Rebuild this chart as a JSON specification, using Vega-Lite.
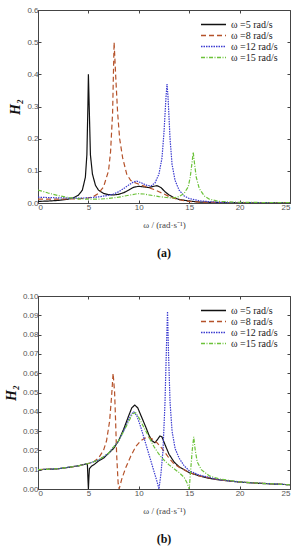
{
  "$schema": "https://vega.github.io/schema/vega-lite/v6.json",
  "padding": {"left": 3, "top": 5, "right": 5, "bottom": 0},
  "spacing": 31,
  "background": "white",
  "config": {
    "view": {"stroke": "#444", "strokeWidth": 1},
    "axis": {
      "grid": false,
      "domainColor": "#444",
      "tickColor": "#444",
      "tickSize": -3,
      "labelFont": "Liberation Sans",
      "labelFontSize": 8,
      "labelColor": "#555",
      "labelPadding": 3,
      "titleFont": "Liberation Serif",
      "titleColor": "#444",
      "titleFontWeight": "normal"
    },
    "legend": {
      "labelFont": "Liberation Serif",
      "labelFontSize": 10,
      "labelColor": "#222",
      "symbolType": "stroke",
      "symbolSize": 625,
      "symbolStrokeWidth": 1.3,
      "clipHeight": 11,
      "rowPadding": 0,
      "padding": 0
    }
  },
  "datasets": {
    "a": [
      {"w":0,"h":0.005,"s":"ω =5 rad/s"},{"w":1,"h":0.006,"s":"ω =5 rad/s"},{"w":2,"h":0.008,"s":"ω =5 rad/s"},{"w":3,"h":0.012,"s":"ω =5 rad/s"},{"w":3.5,"h":0.016,"s":"ω =5 rad/s"},{"w":4,"h":0.024,"s":"ω =5 rad/s"},{"w":4.4,"h":0.04,"s":"ω =5 rad/s"},{"w":4.7,"h":0.08,"s":"ω =5 rad/s"},{"w":4.85,"h":0.15,"s":"ω =5 rad/s"},{"w":4.95,"h":0.3,"s":"ω =5 rad/s"},{"w":5.0,"h":0.4,"s":"ω =5 rad/s"},{"w":5.08,"h":0.3,"s":"ω =5 rad/s"},{"w":5.2,"h":0.15,"s":"ω =5 rad/s"},{"w":5.4,"h":0.09,"s":"ω =5 rad/s"},{"w":5.7,"h":0.055,"s":"ω =5 rad/s"},{"w":6,"h":0.04,"s":"ω =5 rad/s"},{"w":6.5,"h":0.03,"s":"ω =5 rad/s"},{"w":7,"h":0.026,"s":"ω =5 rad/s"},{"w":7.5,"h":0.025,"s":"ω =5 rad/s"},{"w":8,"h":0.027,"s":"ω =5 rad/s"},{"w":8.5,"h":0.032,"s":"ω =5 rad/s"},{"w":9,"h":0.04,"s":"ω =5 rad/s"},{"w":9.5,"h":0.049,"s":"ω =5 rad/s"},{"w":10,"h":0.052,"s":"ω =5 rad/s"},{"w":10.5,"h":0.05,"s":"ω =5 rad/s"},{"w":11,"h":0.048,"s":"ω =5 rad/s"},{"w":11.5,"h":0.052,"s":"ω =5 rad/s"},{"w":11.8,"h":0.054,"s":"ω =5 rad/s"},{"w":12.2,"h":0.048,"s":"ω =5 rad/s"},{"w":12.6,"h":0.035,"s":"ω =5 rad/s"},{"w":13,"h":0.025,"s":"ω =5 rad/s"},{"w":13.5,"h":0.016,"s":"ω =5 rad/s"},{"w":14,"h":0.011,"s":"ω =5 rad/s"},{"w":15,"h":0.006,"s":"ω =5 rad/s"},{"w":16,"h":0.003,"s":"ω =5 rad/s"},{"w":18,"h":0.0015,"s":"ω =5 rad/s"},{"w":20,"h":0.001,"s":"ω =5 rad/s"},{"w":25,"h":0.0005,"s":"ω =5 rad/s"},

      {"w":0,"h":0.012,"s":"ω =8 rad/s"},{"w":2,"h":0.012,"s":"ω =8 rad/s"},{"w":4,"h":0.013,"s":"ω =8 rad/s"},{"w":5,"h":0.016,"s":"ω =8 rad/s"},{"w":5.5,"h":0.02,"s":"ω =8 rad/s"},{"w":6,"h":0.03,"s":"ω =8 rad/s"},{"w":6.5,"h":0.05,"s":"ω =8 rad/s"},{"w":7,"h":0.1,"s":"ω =8 rad/s"},{"w":7.2,"h":0.16,"s":"ω =8 rad/s"},{"w":7.4,"h":0.28,"s":"ω =8 rad/s"},{"w":7.55,"h":0.5,"s":"ω =8 rad/s"},{"w":7.7,"h":0.4,"s":"ω =8 rad/s"},{"w":7.9,"h":0.28,"s":"ω =8 rad/s"},{"w":8.1,"h":0.2,"s":"ω =8 rad/s"},{"w":8.4,"h":0.14,"s":"ω =8 rad/s"},{"w":8.8,"h":0.09,"s":"ω =8 rad/s"},{"w":9.2,"h":0.07,"s":"ω =8 rad/s"},{"w":9.7,"h":0.062,"s":"ω =8 rad/s"},{"w":10.2,"h":0.056,"s":"ω =8 rad/s"},{"w":10.8,"h":0.05,"s":"ω =8 rad/s"},{"w":11.5,"h":0.042,"s":"ω =8 rad/s"},{"w":12,"h":0.035,"s":"ω =8 rad/s"},{"w":12.5,"h":0.028,"s":"ω =8 rad/s"},{"w":13,"h":0.02,"s":"ω =8 rad/s"},{"w":14,"h":0.01,"s":"ω =8 rad/s"},{"w":15,"h":0.005,"s":"ω =8 rad/s"},{"w":16,"h":0.003,"s":"ω =8 rad/s"},{"w":18,"h":0.0015,"s":"ω =8 rad/s"},{"w":25,"h":0.0005,"s":"ω =8 rad/s"},

      {"w":0,"h":0.018,"s":"ω =12 rad/s"},{"w":2,"h":0.016,"s":"ω =12 rad/s"},{"w":4,"h":0.015,"s":"ω =12 rad/s"},{"w":5,"h":0.016,"s":"ω =12 rad/s"},{"w":6,"h":0.019,"s":"ω =12 rad/s"},{"w":7,"h":0.024,"s":"ω =12 rad/s"},{"w":7.5,"h":0.028,"s":"ω =12 rad/s"},{"w":8,"h":0.035,"s":"ω =12 rad/s"},{"w":8.5,"h":0.045,"s":"ω =12 rad/s"},{"w":9,"h":0.056,"s":"ω =12 rad/s"},{"w":9.5,"h":0.066,"s":"ω =12 rad/s"},{"w":9.8,"h":0.068,"s":"ω =12 rad/s"},{"w":10.3,"h":0.062,"s":"ω =12 rad/s"},{"w":10.8,"h":0.055,"s":"ω =12 rad/s"},{"w":11.2,"h":0.053,"s":"ω =12 rad/s"},{"w":11.6,"h":0.062,"s":"ω =12 rad/s"},{"w":12,"h":0.09,"s":"ω =12 rad/s"},{"w":12.3,"h":0.14,"s":"ω =12 rad/s"},{"w":12.5,"h":0.22,"s":"ω =12 rad/s"},{"w":12.7,"h":0.33,"s":"ω =12 rad/s"},{"w":12.8,"h":0.37,"s":"ω =12 rad/s"},{"w":12.9,"h":0.33,"s":"ω =12 rad/s"},{"w":13.1,"h":0.2,"s":"ω =12 rad/s"},{"w":13.3,"h":0.12,"s":"ω =12 rad/s"},{"w":13.6,"h":0.07,"s":"ω =12 rad/s"},{"w":14,"h":0.04,"s":"ω =12 rad/s"},{"w":14.5,"h":0.022,"s":"ω =12 rad/s"},{"w":15,"h":0.014,"s":"ω =12 rad/s"},{"w":16,"h":0.007,"s":"ω =12 rad/s"},{"w":17,"h":0.004,"s":"ω =12 rad/s"},{"w":18,"h":0.002,"s":"ω =12 rad/s"},{"w":20,"h":0.001,"s":"ω =12 rad/s"},{"w":25,"h":0.0005,"s":"ω =12 rad/s"},

      {"w":0,"h":0.04,"s":"ω =15 rad/s"},{"w":0.5,"h":0.036,"s":"ω =15 rad/s"},{"w":1,"h":0.031,"s":"ω =15 rad/s"},{"w":2,"h":0.023,"s":"ω =15 rad/s"},{"w":3,"h":0.017,"s":"ω =15 rad/s"},{"w":4,"h":0.013,"s":"ω =15 rad/s"},{"w":5,"h":0.012,"s":"ω =15 rad/s"},{"w":6,"h":0.012,"s":"ω =15 rad/s"},{"w":7,"h":0.014,"s":"ω =15 rad/s"},{"w":8,"h":0.018,"s":"ω =15 rad/s"},{"w":9,"h":0.024,"s":"ω =15 rad/s"},{"w":9.7,"h":0.028,"s":"ω =15 rad/s"},{"w":10,"h":0.029,"s":"ω =15 rad/s"},{"w":10.5,"h":0.028,"s":"ω =15 rad/s"},{"w":11,"h":0.025,"s":"ω =15 rad/s"},{"w":12,"h":0.02,"s":"ω =15 rad/s"},{"w":13,"h":0.016,"s":"ω =15 rad/s"},{"w":13.5,"h":0.016,"s":"ω =15 rad/s"},{"w":14,"h":0.02,"s":"ω =15 rad/s"},{"w":14.5,"h":0.03,"s":"ω =15 rad/s"},{"w":14.9,"h":0.05,"s":"ω =15 rad/s"},{"w":15.1,"h":0.08,"s":"ω =15 rad/s"},{"w":15.3,"h":0.13,"s":"ω =15 rad/s"},{"w":15.4,"h":0.158,"s":"ω =15 rad/s"},{"w":15.5,"h":0.13,"s":"ω =15 rad/s"},{"w":15.7,"h":0.08,"s":"ω =15 rad/s"},{"w":16,"h":0.045,"s":"ω =15 rad/s"},{"w":16.5,"h":0.022,"s":"ω =15 rad/s"},{"w":17,"h":0.012,"s":"ω =15 rad/s"},{"w":18,"h":0.005,"s":"ω =15 rad/s"},{"w":20,"h":0.002,"s":"ω =15 rad/s"},{"w":25,"h":0.001,"s":"ω =15 rad/s"}
    ],
    "b": [
      {"w":0,"h":0.01,"s":"ω =5 rad/s"},{"w":1,"h":0.0102,"s":"ω =5 rad/s"},{"w":2,"h":0.0105,"s":"ω =5 rad/s"},{"w":3,"h":0.0112,"s":"ω =5 rad/s"},{"w":4,"h":0.012,"s":"ω =5 rad/s"},{"w":4.6,"h":0.0128,"s":"ω =5 rad/s"},{"w":4.8,"h":0.013,"s":"ω =5 rad/s"},{"w":4.9,"h":0.0128,"s":"ω =5 rad/s"},{"w":4.95,"h":0.006,"s":"ω =5 rad/s"},{"w":5.0,"h":0.0,"s":"ω =5 rad/s"},{"w":5.05,"h":0.006,"s":"ω =5 rad/s"},{"w":5.1,"h":0.0105,"s":"ω =5 rad/s"},{"w":5.3,"h":0.0118,"s":"ω =5 rad/s"},{"w":5.6,"h":0.0128,"s":"ω =5 rad/s"},{"w":6,"h":0.0145,"s":"ω =5 rad/s"},{"w":6.5,"h":0.016,"s":"ω =5 rad/s"},{"w":7,"h":0.0185,"s":"ω =5 rad/s"},{"w":7.5,"h":0.021,"s":"ω =5 rad/s"},{"w":8,"h":0.025,"s":"ω =5 rad/s"},{"w":8.5,"h":0.031,"s":"ω =5 rad/s"},{"w":9,"h":0.038,"s":"ω =5 rad/s"},{"w":9.3,"h":0.042,"s":"ω =5 rad/s"},{"w":9.6,"h":0.0435,"s":"ω =5 rad/s"},{"w":9.9,"h":0.042,"s":"ω =5 rad/s"},{"w":10.3,"h":0.037,"s":"ω =5 rad/s"},{"w":10.7,"h":0.032,"s":"ω =5 rad/s"},{"w":11,"h":0.028,"s":"ω =5 rad/s"},{"w":11.3,"h":0.025,"s":"ω =5 rad/s"},{"w":11.6,"h":0.024,"s":"ω =5 rad/s"},{"w":11.9,"h":0.026,"s":"ω =5 rad/s"},{"w":12.1,"h":0.0275,"s":"ω =5 rad/s"},{"w":12.3,"h":0.027,"s":"ω =5 rad/s"},{"w":12.6,"h":0.023,"s":"ω =5 rad/s"},{"w":13,"h":0.018,"s":"ω =5 rad/s"},{"w":13.5,"h":0.014,"s":"ω =5 rad/s"},{"w":14,"h":0.0115,"s":"ω =5 rad/s"},{"w":15,"h":0.0085,"s":"ω =5 rad/s"},{"w":16,"h":0.0068,"s":"ω =5 rad/s"},{"w":17,"h":0.0055,"s":"ω =5 rad/s"},{"w":18,"h":0.0047,"s":"ω =5 rad/s"},{"w":20,"h":0.0036,"s":"ω =5 rad/s"},{"w":22,"h":0.0029,"s":"ω =5 rad/s"},{"w":25,"h":0.0022,"s":"ω =5 rad/s"},

      {"w":0,"h":0.01,"s":"ω =8 rad/s"},{"w":2,"h":0.0105,"s":"ω =8 rad/s"},{"w":4,"h":0.012,"s":"ω =8 rad/s"},{"w":5,"h":0.0132,"s":"ω =8 rad/s"},{"w":5.5,"h":0.014,"s":"ω =8 rad/s"},{"w":6,"h":0.016,"s":"ω =8 rad/s"},{"w":6.5,"h":0.02,"s":"ω =8 rad/s"},{"w":6.8,"h":0.025,"s":"ω =8 rad/s"},{"w":7.1,"h":0.035,"s":"ω =8 rad/s"},{"w":7.3,"h":0.048,"s":"ω =8 rad/s"},{"w":7.45,"h":0.06,"s":"ω =8 rad/s"},{"w":7.6,"h":0.05,"s":"ω =8 rad/s"},{"w":7.7,"h":0.035,"s":"ω =8 rad/s"},{"w":7.8,"h":0.018,"s":"ω =8 rad/s"},{"w":7.95,"h":0.003,"s":"ω =8 rad/s"},{"w":8.05,"h":0.0,"s":"ω =8 rad/s"},{"w":8.3,"h":0.005,"s":"ω =8 rad/s"},{"w":8.7,"h":0.011,"s":"ω =8 rad/s"},{"w":9.2,"h":0.017,"s":"ω =8 rad/s"},{"w":9.7,"h":0.022,"s":"ω =8 rad/s"},{"w":10.2,"h":0.025,"s":"ω =8 rad/s"},{"w":10.8,"h":0.027,"s":"ω =8 rad/s"},{"w":11.3,"h":0.026,"s":"ω =8 rad/s"},{"w":11.8,"h":0.024,"s":"ω =8 rad/s"},{"w":12.3,"h":0.021,"s":"ω =8 rad/s"},{"w":13,"h":0.016,"s":"ω =8 rad/s"},{"w":13.5,"h":0.013,"s":"ω =8 rad/s"},{"w":14,"h":0.0113,"s":"ω =8 rad/s"},{"w":15,"h":0.0085,"s":"ω =8 rad/s"},{"w":16,"h":0.0068,"s":"ω =8 rad/s"},{"w":18,"h":0.0047,"s":"ω =8 rad/s"},{"w":20,"h":0.0036,"s":"ω =8 rad/s"},{"w":25,"h":0.0022,"s":"ω =8 rad/s"},

      {"w":0,"h":0.01,"s":"ω =12 rad/s"},{"w":2,"h":0.0105,"s":"ω =12 rad/s"},{"w":4,"h":0.012,"s":"ω =12 rad/s"},{"w":5,"h":0.0132,"s":"ω =12 rad/s"},{"w":6,"h":0.015,"s":"ω =12 rad/s"},{"w":7,"h":0.0185,"s":"ω =12 rad/s"},{"w":8,"h":0.025,"s":"ω =12 rad/s"},{"w":8.5,"h":0.03,"s":"ω =12 rad/s"},{"w":9,"h":0.036,"s":"ω =12 rad/s"},{"w":9.3,"h":0.039,"s":"ω =12 rad/s"},{"w":9.5,"h":0.04,"s":"ω =12 rad/s"},{"w":9.8,"h":0.038,"s":"ω =12 rad/s"},{"w":10.2,"h":0.032,"s":"ω =12 rad/s"},{"w":10.6,"h":0.025,"s":"ω =12 rad/s"},{"w":11,"h":0.018,"s":"ω =12 rad/s"},{"w":11.4,"h":0.011,"s":"ω =12 rad/s"},{"w":11.8,"h":0.004,"s":"ω =12 rad/s"},{"w":12.0,"h":0.0,"s":"ω =12 rad/s"},{"w":12.2,"h":0.008,"s":"ω =12 rad/s"},{"w":12.4,"h":0.02,"s":"ω =12 rad/s"},{"w":12.6,"h":0.045,"s":"ω =12 rad/s"},{"w":12.75,"h":0.075,"s":"ω =12 rad/s"},{"w":12.85,"h":0.092,"s":"ω =12 rad/s"},{"w":12.95,"h":0.07,"s":"ω =12 rad/s"},{"w":13.1,"h":0.045,"s":"ω =12 rad/s"},{"w":13.3,"h":0.03,"s":"ω =12 rad/s"},{"w":13.6,"h":0.021,"s":"ω =12 rad/s"},{"w":14,"h":0.016,"s":"ω =12 rad/s"},{"w":14.5,"h":0.012,"s":"ω =12 rad/s"},{"w":15,"h":0.0095,"s":"ω =12 rad/s"},{"w":16,"h":0.0072,"s":"ω =12 rad/s"},{"w":18,"h":0.0048,"s":"ω =12 rad/s"},{"w":20,"h":0.0036,"s":"ω =12 rad/s"},{"w":25,"h":0.0022,"s":"ω =12 rad/s"},

      {"w":0,"h":0.01,"s":"ω =15 rad/s"},{"w":2,"h":0.0105,"s":"ω =15 rad/s"},{"w":4,"h":0.012,"s":"ω =15 rad/s"},{"w":5,"h":0.0132,"s":"ω =15 rad/s"},{"w":6,"h":0.015,"s":"ω =15 rad/s"},{"w":7,"h":0.0185,"s":"ω =15 rad/s"},{"w":8,"h":0.025,"s":"ω =15 rad/s"},{"w":8.5,"h":0.03,"s":"ω =15 rad/s"},{"w":9,"h":0.035,"s":"ω =15 rad/s"},{"w":9.4,"h":0.039,"s":"ω =15 rad/s"},{"w":9.7,"h":0.0395,"s":"ω =15 rad/s"},{"w":10,"h":0.037,"s":"ω =15 rad/s"},{"w":10.5,"h":0.032,"s":"ω =15 rad/s"},{"w":11,"h":0.027,"s":"ω =15 rad/s"},{"w":11.5,"h":0.022,"s":"ω =15 rad/s"},{"w":12,"h":0.018,"s":"ω =15 rad/s"},{"w":12.5,"h":0.015,"s":"ω =15 rad/s"},{"w":13,"h":0.0125,"s":"ω =15 rad/s"},{"w":13.5,"h":0.0105,"s":"ω =15 rad/s"},{"w":14,"h":0.0085,"s":"ω =15 rad/s"},{"w":14.5,"h":0.006,"s":"ω =15 rad/s"},{"w":14.8,"h":0.003,"s":"ω =15 rad/s"},{"w":15.0,"h":0.0,"s":"ω =15 rad/s"},{"w":15.15,"h":0.01,"s":"ω =15 rad/s"},{"w":15.3,"h":0.02,"s":"ω =15 rad/s"},{"w":15.45,"h":0.027,"s":"ω =15 rad/s"},{"w":15.6,"h":0.02,"s":"ω =15 rad/s"},{"w":15.8,"h":0.014,"s":"ω =15 rad/s"},{"w":16.2,"h":0.01,"s":"ω =15 rad/s"},{"w":17,"h":0.0068,"s":"ω =15 rad/s"},{"w":18,"h":0.0052,"s":"ω =15 rad/s"},{"w":20,"h":0.0037,"s":"ω =15 rad/s"},{"w":22,"h":0.003,"s":"ω =15 rad/s"},{"w":25,"h":0.0022,"s":"ω =15 rad/s"}
    ]
  },
  "vconcat": [
    {
      "width": 252,
      "height": 193,
      "title": {"text": "(a)", "orient": "bottom", "font": "Liberation Serif", "fontSize": 12, "fontWeight": "bold", "color": "#111", "offset": 19},
      "data": {"name": "a"},
      "resolve": {"axis": {"x": "independent", "y": "independent"}},
      "layer": [
        {
          "mark": {"type": "line", "strokeWidth": 1.2, "clip": true},
          "encoding": {
            "x": {"field": "w", "type": "quantitative", "scale": {"domain": [0, 25], "nice": false}, "axis": {"orient": "bottom", "values": [0, 5, 10, 15, 20, 25], "title": "ω / (rad·s⁻¹)", "titleFontSize": 9, "titlePadding": 9}},
            "y": {"field": "h", "type": "quantitative", "scale": {"domain": [0, 0.6], "nice": false}, "axis": {"orient": "left", "values": [0, 0.1, 0.2, 0.3, 0.4, 0.5, 0.6], "title": "H₂", "titleFontSize": 14, "titleFontStyle": "italic", "titleFontWeight": "bold", "titleColor": "#111", "titlePadding": 4}},
            "color": {"field": "s", "type": "nominal", "sort": null, "scale": {"domain": ["ω =5 rad/s", "ω =8 rad/s", "ω =12 rad/s", "ω =15 rad/s"], "range": ["#111111", "#b5522a", "#3a3ad0", "#6cc23a"]}, "legend": {"title": null, "orient": "none", "legendX": 162, "legendY": 9}},
            "strokeDash": {"field": "s", "type": "nominal", "sort": null, "scale": {"domain": ["ω =5 rad/s", "ω =8 rad/s", "ω =12 rad/s", "ω =15 rad/s"], "range": [[1, 0], [5, 3], [1.5, 1], [4, 1.5, 1, 1.5]]}, "legend": {"title": null, "orient": "none", "legendX": 162, "legendY": 9}}
          }
        },
        {
          "mark": {"type": "line", "strokeOpacity": 0},
          "encoding": {
            "x": {"field": "w", "type": "quantitative", "axis": {"orient": "top", "values": [0, 5, 10, 15, 20, 25], "labels": false, "title": null, "domain": false}},
            "y": {"field": "h", "type": "quantitative", "axis": {"orient": "right", "values": [0, 0.1, 0.2, 0.3, 0.4, 0.5, 0.6], "labels": false, "title": null, "domain": false}},
            "detail": {"field": "s"}
          }
        }
      ]
    },
    {
      "width": 252,
      "height": 193,
      "title": {"text": "(b)", "orient": "bottom", "font": "Liberation Serif", "fontSize": 12, "fontWeight": "bold", "color": "#111", "offset": 19},
      "data": {"name": "b"},
      "resolve": {"axis": {"x": "independent", "y": "independent"}},
      "layer": [
        {
          "mark": {"type": "line", "strokeWidth": 1.2, "clip": true},
          "encoding": {
            "x": {"field": "w", "type": "quantitative", "scale": {"domain": [0, 25], "nice": false}, "axis": {"orient": "bottom", "values": [0, 5, 10, 15, 20, 25], "title": "ω / (rad·s⁻¹)", "titleFontSize": 9, "titlePadding": 9}},
            "y": {"field": "h", "type": "quantitative", "scale": {"domain": [0, 0.1], "nice": false}, "axis": {"orient": "left", "values": [0, 0.01, 0.02, 0.03, 0.04, 0.05, 0.06, 0.07, 0.08, 0.09, 0.1], "title": "H₂", "titleFontSize": 14, "titleFontStyle": "italic", "titleFontWeight": "bold", "titleColor": "#111", "titlePadding": 4}},
            "color": {"field": "s", "type": "nominal", "sort": null, "scale": {"domain": ["ω =5 rad/s", "ω =8 rad/s", "ω =12 rad/s", "ω =15 rad/s"], "range": ["#111111", "#b5522a", "#3a3ad0", "#6cc23a"]}, "legend": {"title": null, "orient": "none", "legendX": 162, "legendY": 9}},
            "strokeDash": {"field": "s", "type": "nominal", "sort": null, "scale": {"domain": ["ω =5 rad/s", "ω =8 rad/s", "ω =12 rad/s", "ω =15 rad/s"], "range": [[1, 0], [5, 3], [1.5, 1], [4, 1.5, 1, 1.5]]}, "legend": {"title": null, "orient": "none", "legendX": 162, "legendY": 9}}
          }
        },
        {
          "mark": {"type": "line", "strokeOpacity": 0},
          "encoding": {
            "x": {"field": "w", "type": "quantitative", "axis": {"orient": "top", "values": [0, 5, 10, 15, 20, 25], "labels": false, "title": null, "domain": false}},
            "y": {"field": "h", "type": "quantitative", "axis": {"orient": "right", "values": [0, 0.01, 0.02, 0.03, 0.04, 0.05, 0.06, 0.07, 0.08, 0.09, 0.1], "labels": false, "title": null, "domain": false}},
            "detail": {"field": "s"}
          }
        }
      ]
    }
  ],
  "resolve": {"scale": {"color": "independent", "strokeDash": "independent", "x": "independent", "y": "independent"}, "legend": {"color": "independent", "strokeDash": "independent"}}
}
